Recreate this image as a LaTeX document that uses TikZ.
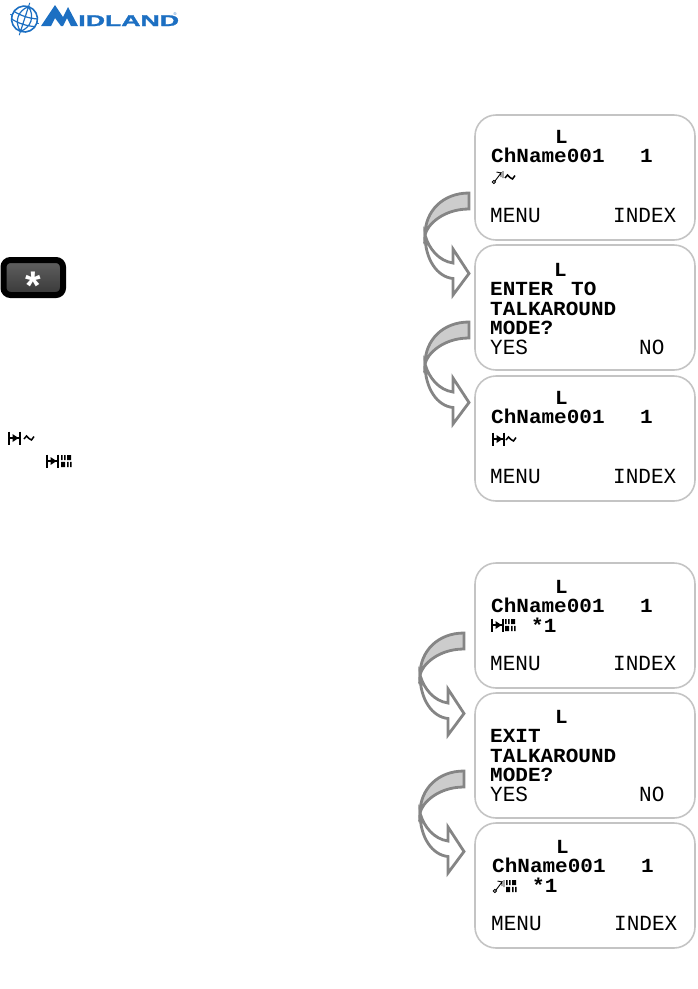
\documentclass[tikz,border=0pt]{standalone}
\usepackage{fontspec}
\setmainfont{Liberation Sans}
\newfontfamily\lcdfont{Liberation Mono}
\newfontfamily\logofont[UprightFont=* Bold,FakeBold=1.6]{Liberation Sans}
\usetikzlibrary{shadings}
\definecolor{boxline}{HTML}{C4C4C4}
\definecolor{arrowline}{HTML}{858585}
\definecolor{arrowfill}{HTML}{CCCCCC}
\definecolor{logoblue}{HTML}{1C6FC2}
\tikzset{
  x=1pt,y=-1pt,
  lcdbox/.style={draw=boxline,line width=1.6pt,rounded corners=21pt,fill=white,minimum width=220pt,minimum height=125pt,inner sep=0pt},
  big/.style={inner sep=0pt,anchor=base west,font=\lcdfont\fontsize{20}{20}\selectfont\bfseries,text=black,xscale=1.05},
  thin/.style={inner sep=0pt,anchor=base west,font=\lcdfont\fontsize{20}{20}\selectfont,text=black,xscale=1.05,yscale=1.08},
  logotext/.style={inner sep=0pt,anchor=base west,font=\logofont\fontsize{15.5}{15.5}\selectfont,text=logoblue,xscale=1.72},
  curvearrow/.pic={
    \path[draw=arrowline,line width=2.8pt,fill=white,line join=miter]
      (-44,42) .. controls (-44,66) and (-32,84) .. (-16,85.5) -- (-16,102) -- (0,80.5) -- (-16,56) -- (-16,70)
      .. controls (-30,68) and (-40,56) .. (-44,42) -- cycle;
    \path[draw=arrowline,line width=2.8pt,fill=arrowfill,line join=miter]
      (0,0) .. controls (-26,0) and (-44,18) .. (-44,42)
      .. controls (-42,32) and (-26,16) .. (0,16) -- cycle;
  },
  wave/.pic={\draw[line width=1.5pt,black] (0,1) -- (2.5,-2) -- (5,0.5) -- (7.5,2) -- (10,-1.5);},
  talk/.pic={
    \draw[line width=1.1pt,black] (0,-6.5) -- (0,6.5) (11,-6.5) -- (11,6.5) (0,0) -- (10,0);
    \fill[black] (3.5,-4) -- (9.5,0) -- (3.5,4) -- cycle;
  },
  bars/.pic={
    \fill[black] (0,-6) rectangle (1.7,-0.8) (3,-6) rectangle (4.7,-0.8) (6,-6) rectangle (10,-0.8);
    \fill[black] (0,0.8) rectangle (4,6) (6,0.8) rectangle (7.7,6) (9,0.8) rectangle (10.7,6);
  },
  rpt/.pic={
    \draw[line width=0.9pt,black] (0.8,5) circle (1.6) (2,4) -- (8,-4) -- (3.5,-5) (8,-5) -- (8,0) (10,-6) -- (10,1);
  },
}
\begin{document}
\begin{tikzpicture}
\useasboundingbox (0,0) rectangle (698,989);
% logo
\begin{scope}[logoblue]
  \begin{scope}[shift={(24.5,19)},rotate=-18]
    \draw[line width=1.6pt] (0,0) circle (13);
    \draw[line width=1.2pt] (0,-13) .. controls (-9,-6) and (-9,6) .. (0,13)
      (0,-13) .. controls (9,-6) and (9,6) .. (0,13) (0,-13) -- (0,13)
      (-12,-4) .. controls (-5,-2) and (5,-2) .. (12,-4) (-12,4) .. controls (-5,6) and (5,6) .. (12,4);
    \draw[line width=1pt] (0,-13) -- (0,-17) (0,13) -- (0,17) (-13,0) -- (-15,0) (13,0) -- (15,0);
  \end{scope}
  \fill (41,26) -- (55,5) -- (63,17) -- (68,7) -- (78,26) -- (71,26) -- (67,18) -- (63,26) -- (61,26) -- (55,18) -- (51,26) -- cycle;
  \node[logotext] (logoname) at (78,26) {IDLAND};
  \node[inner sep=0pt,font=\fontsize{4}{4}\selectfont,text=logoblue] (logomark) at (175,14.5) {®};
\end{scope}
% key
\draw[black,line width=6pt,rounded corners=7pt,
  top color=black!62,bottom color=black!78] (3.5,260) rectangle (63,295);
\node[inner sep=0pt,text=white,font=\fontsize{40}{40}\selectfont\bfseries] (star) at (33,286) {*};
% left icons
\pic at (9,438) {talk};
\pic at (24,438) {wave};
\pic at (47,461) {talk};
\pic at (61,461) {bars};
% boxes
\node[lcdbox] (b1) at (585,177.5) {};
\node[lcdbox] (b2) at (585,307.5) {};
\node[lcdbox] (b3) at (585,438.5) {};
\node[lcdbox] (b4) at (585,625.5) {};
\node[lcdbox] (b5) at (585,755.5) {};
\node[lcdbox] (b6) at (585,885.5) {};
% arrows
\pic at (469,193) {curvearrow};
\pic at (469,322) {curvearrow};
\pic at (464,633) {curvearrow};
\pic at (464,771) {curvearrow};
% box 1
\node[big] (l1) at (555,143) {L};
\node[big] (n1) at (491,162) {ChName001};
\node[big] (c1) at (640,162) {1};
\pic at (493,177) {rpt};
\pic at (505,177) {wave};
\node[thin] (m1) at (490,222) {MENU};
\node[thin] (i1) at (613,222) {INDEX};
% box 2
\node[big] (l2) at (554,276) {L};
\node[big] (e2) at (490,295) {ENTER};
\node[big] (t2) at (571,295) {TO};
\node[big] (r2) at (490,315) {TALKAROUND};
\node[big] (q2) at (490,334) {MODE?};
\node[thin] (y2) at (490,354) {YES};
\node[thin] (o2) at (639,354) {NO};
% box 3
\node[big] (l3) at (555,404) {L};
\node[big] (n3) at (491,423) {ChName001};
\node[big] (c3) at (640,423) {1};
\pic at (493,439) {talk};
\pic at (506,439) {wave};
\node[thin] (m3) at (490,483) {MENU};
\node[thin] (i3) at (613,483) {INDEX};
% box 4
\node[big] (l4) at (555,593) {L};
\node[big] (n4) at (491,612) {ChName001};
\node[big] (c4) at (640,612) {1};
\pic at (492,625) {talk};
\pic at (505,625) {bars};
\node[big] (s4) at (531,632) {*1};
\node[thin] (m4) at (490,670) {MENU};
\node[thin] (i4) at (613,670) {INDEX};
% box 5
\node[big] (l5) at (555,723) {L};
\node[big] (e5) at (490,742) {EXIT};
\node[big] (r5) at (490,762) {TALKAROUND};
\node[big] (q5) at (490,781) {MODE?};
\node[thin] (y5) at (490,801) {YES};
\node[thin] (o5) at (639,801) {NO};
% box 6
\node[big] (l6) at (556,853) {L};
\node[big] (n6) at (492,872) {ChName001};
\node[big] (c6) at (641,872) {1};
\pic at (494,886) {rpt};
\pic at (506,886) {bars};
\node[big] (s6) at (532,892) {*1};
\node[thin] (m6) at (491,930) {MENU};
\node[thin] (i6) at (614,930) {INDEX};
\end{tikzpicture}
\end{document}
